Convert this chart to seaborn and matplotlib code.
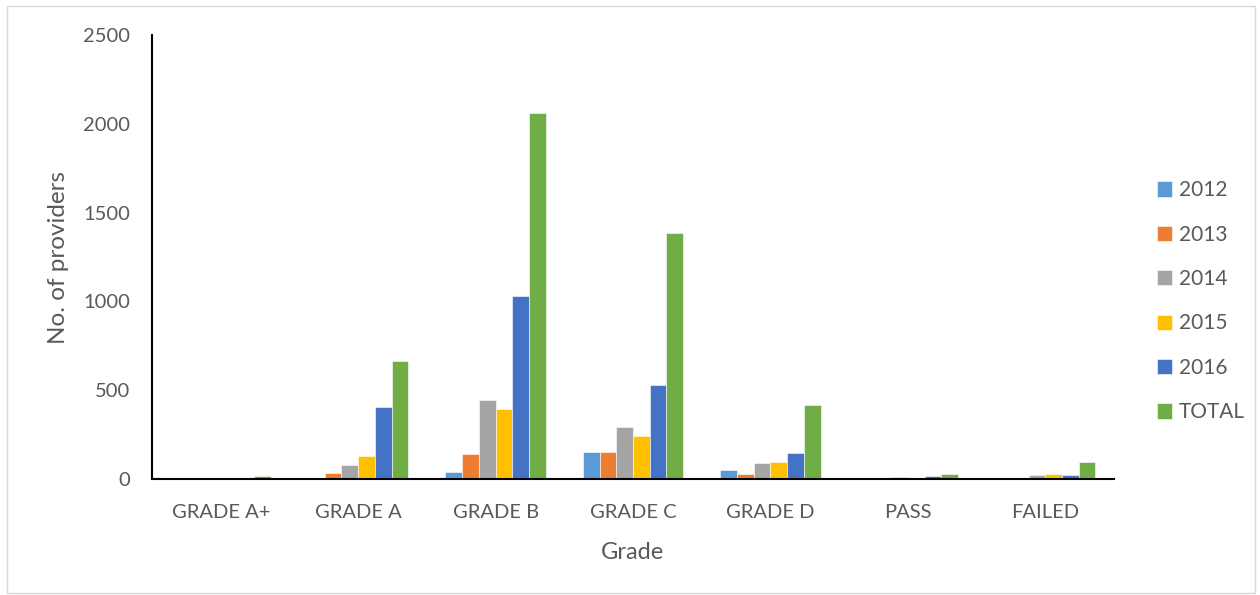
import matplotlib
matplotlib.use("Agg")
import matplotlib.pyplot as plt
import seaborn as sns
import pandas as pd
from matplotlib.patches import Rectangle

grades = ["GRADE A+", "GRADE A", "GRADE B", "GRADE C", "GRADE D", "PASS", "FAILED"]
series = ["2012", "2013", "2014", "2015", "2016", "TOTAL"]
v2012 = [0, 4, 41, 152, 51, 0, 7]
v2013 = [0, 35, 141, 154, 28, 0, 7]
v2014 = [2, 80, 445, 293, 88, 10, 21]
v2015 = [0, 131, 392, 244, 96, 0, 30]
v2016 = [5, 405, 1030, 529, 145, 15, 21]
vtotal = [15, 664, 2061, 1385, 417, 27, 97]
colors = ["#5B9BD5", "#ED7D31", "#A5A5A5", "#FFC000", "#4472C4", "#70AD47"]

rows = []
for name, vals in zip(series, [v2012, v2013, v2014, v2015, v2016, vtotal]):
    for g, v in zip(grades, vals):
        rows.append({"Grade": g, "Year": name, "Count": v})
df = pd.DataFrame(rows)

sns.set_theme(style="white")
plt.rcParams["font.family"] = ["Lato", "DejaVu Sans"]

fig = plt.figure(figsize=(12.6, 5.95), dpi=100)
ax = fig.add_axes([152 / 1260, 1 - 479 / 595, 962 / 1260, 444 / 595])

sns.barplot(data=df, x="Grade", y="Count", hue="Year", order=grades,
            hue_order=series, palette=colors, width=0.73, ax=ax,
            edgecolor="white", linewidth=0.4, saturation=1, errorbar=None)

ax.set_ylim(0, 2500)
ax.set_yticks([0, 500, 1000, 1500, 2000, 2500])
ax.set_xlim(-0.5, len(grades) - 0.5)
for s in ["top", "right"]:
    ax.spines[s].set_visible(False)
for s in ["left", "bottom"]:
    ax.spines[s].set_color("black")
    ax.spines[s].set_linewidth(1.5)
ax.tick_params(axis="both", length=0, labelsize=14.5, colors="#595959")
ax.tick_params(axis="y", pad=16)
ax.tick_params(axis="x", pad=18)
ax.set_ylabel("No. of providers", fontsize=17.5, color="#595959", labelpad=10)
ax.set_xlabel("Grade", fontsize=17, color="#595959", labelpad=15)

ax.legend(loc="upper left", bbox_to_anchor=(1.025, 0.715), frameon=False,
          fontsize=15, labelcolor="#595959", handlelength=0.75, handleheight=0.75,
          handletextpad=0.3, labelspacing=1.17)

fig.patches.append(Rectangle((7 / 1260, 2 / 595), 1248 / 1260, 587 / 595,
                             transform=fig.transFigure, fill=False,
                             edgecolor="#D9D9D9", linewidth=1))

fig.savefig("out.png", dpi=100, facecolor="white")
